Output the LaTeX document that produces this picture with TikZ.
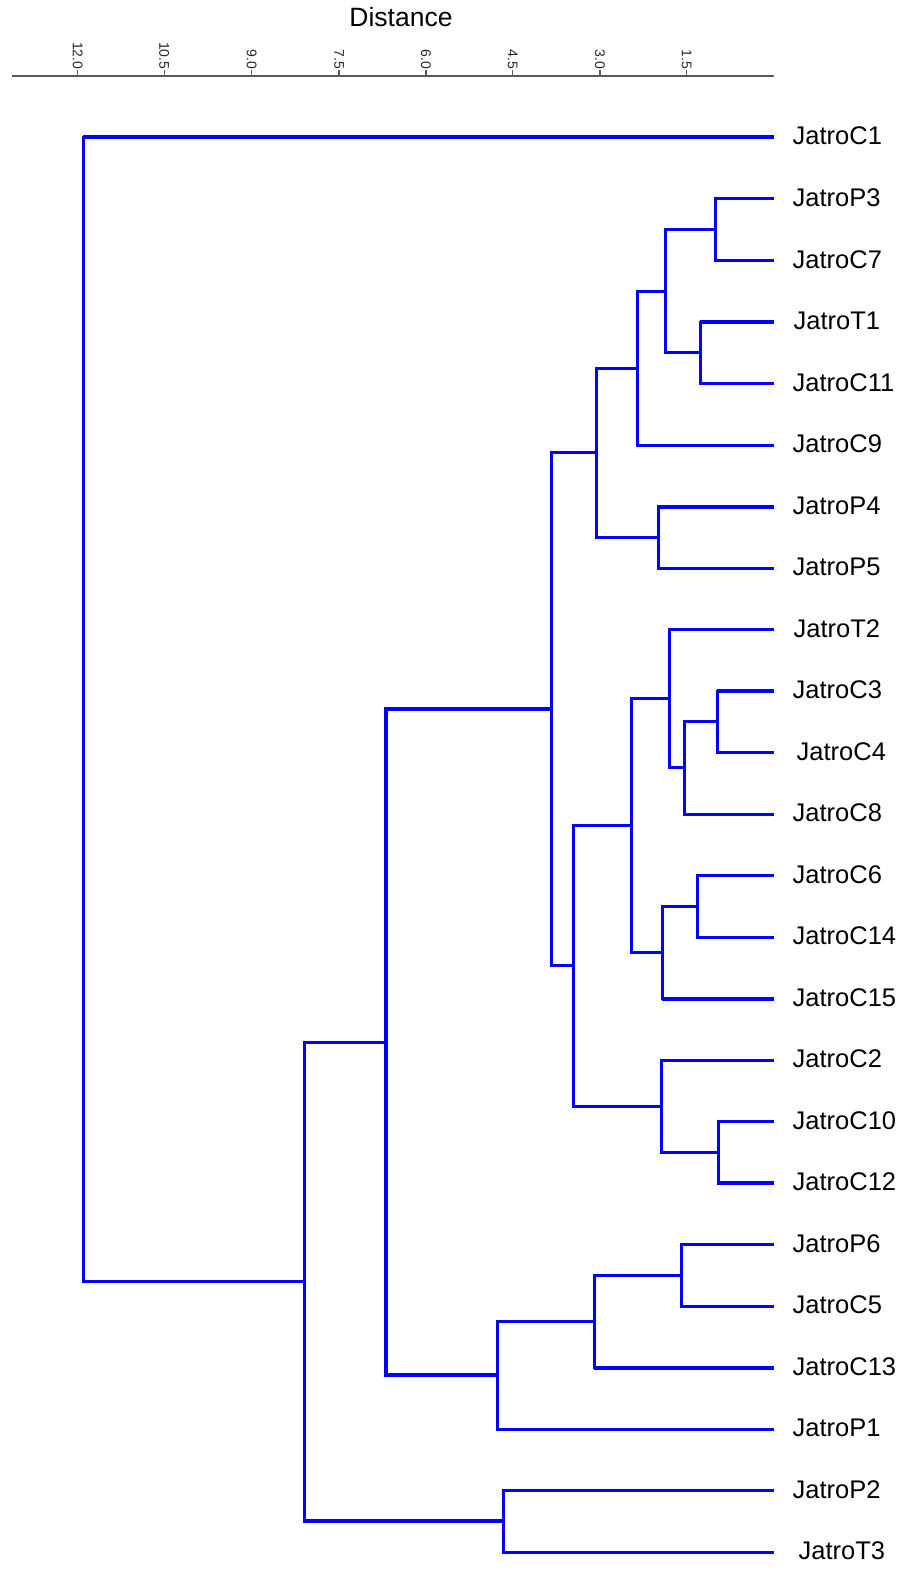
\documentclass[tikz,border=0pt]{standalone}
\usepackage{fontspec}
\setmainfont{Liberation Sans}
\begin{document}
\begin{tikzpicture}[x=1pt,y=-1pt,
  branch/.style={draw=blue,line width=3pt,line join=miter},
  thick branch/.style={branch,line width=4pt},
  leaflabel/.style={anchor=base west,inner sep=0pt,font=\fontsize{25.5}{30}\selectfont},
  ticklabel/.style={anchor=east,rotate=-90,inner sep=0pt,text=black!85,font=\fontsize{14}{16}\selectfont},
  axisline/.style={draw=black!65,line width=1.4pt}]
\useasboundingbox (0,0) rectangle (904,1570);

% ---- distance axis ----
\node[anchor=base,inner sep=0pt,font=\fontsize{26.5}{30}\selectfont] (title) at (401,27) {Distance};
\coordinate (axL) at (12,76);
\coordinate (axR) at (774,76);
\draw[axisline] (axL) -- (axR);
\foreach \xp/\lab [count=\i] in {77.7/12.0,164.3/10.5,251.7/9.0,339/7.5,426/6.0,512.7/4.5,600/3.0,686.7/1.5}{
  \coordinate (tk\i) at (\xp,76);
  \draw[axisline,line width=1.2pt] (tk\i) -- ++(0,-6);
  \node[ticklabel] (tl\i) at (\xp,69.5) {\lab};
}

% ---- leaves ----
\foreach \nm/\idx/\dx in {C1/0/0,P3/1/0,C7/2/0,T1/3/1,C11/4/0,C9/5/0,P4/6/0,P5/7/0,
  T2/8/1,C3/9/0,C4/10/4,C8/11/0,C6/12/0,C14/13/0,C15/14/0,C2/15/0,C10/16/0,C12/17/0,
  P6/18/0,C5/19/0,C13/20/0,P1/21/0,P2/22/0,T3/23/6}{
  \coordinate (\nm) at (774,{137.5+61.5*\idx});
  \node[leaflabel] (L\nm) at ({792.5+\dx},{145+61.5*\idx}) {Jatro\nm};
}

% ---- internal nodes (merge level, mid height of children) ----
\coordinate (a1) at (715,229.75);
\coordinate (a2) at (700,352.75);
\coordinate (a3) at (665,291.25);
\coordinate (a4) at (637,368.125);
\coordinate (a5) at (658,537.25);
\coordinate (a6) at (596,452.69);
\coordinate (b1) at (717,721.75);
\coordinate (b2) at (684,767.875);
\coordinate (b3) at (669,698.69);
\coordinate (b4) at (697,906.25);
\coordinate (b5) at (662,952.375);
\coordinate (b6) at (631,825.53);
\coordinate (b7) at (718,1152.25);
\coordinate (b8) at (661,1106.125);
\coordinate (b9) at (573,965.83);
\coordinate (c1) at (551,709.26);
\coordinate (d1) at (681,1275.25);
\coordinate (d2) at (594,1321.375);
\coordinate (d3) at (497,1375.19);
\coordinate (e1) at (386,1042.22);
\coordinate (f1) at (503,1521.25);
\coordinate (g1) at (304,1281.74);
\coordinate (root) at (83,709.6);

% ---- branches ----
\draw[branch] (a1) |- (P3);  \draw[branch] (a1) |- (C7);
\draw[branch] (a2) |- (T1);  \draw[branch] (a2) |- (C11);
\draw[branch] (a3) |- (a1);  \draw[branch] (a3) |- (a2);
\draw[branch] (a4) |- (a3);  \draw[branch] (a4) |- (C9);
\draw[branch] (a5) |- (P4);  \draw[branch] (a5) |- (P5);
\draw[branch] (a6) |- (a4);  \draw[branch] (a6) |- (a5);

\draw[branch] (b1) |- (C3);  \draw[branch] (b1) |- (C4);
\draw[branch] (b2) |- (b1);  \draw[branch] (b2) |- (C8);
\draw[branch] (b3) |- (T2);  \draw[branch] (b3) |- (b2);
\draw[branch] (b4) |- (C6);  \draw[branch] (b4) |- (C14);
\draw[branch] (b5) |- (b4);  \draw[branch] (b5) |- (C15);
\draw[branch] (b6) |- (b3);  \draw[branch] (b6) |- (b5);
\draw[branch] (b7) |- (C10); \draw[branch] (b7) |- (C12);
\draw[branch] (b8) |- (C2);  \draw[branch] (b8) |- (b7);
\draw[branch] (b9) |- (b6);  \draw[branch] (b9) |- (b8);
\draw[branch] (c1) |- (a6);  \draw[branch] (c1) |- (b9);

\draw[branch] (d1) |- (P6);  \draw[branch] (d1) |- (C5);
\draw[branch] (d2) |- (d1);  \draw[branch] (d2) |- (C13);
\draw[branch] (d3) |- (d2);  \draw[branch] (d3) |- (P1);
\draw[thick branch] (e1) |- (c1);  \draw[thick branch] (e1) |- (d3);
\draw[branch] (f1) |- (P2);  \draw[branch] (f1) |- (T3);
\draw[branch] (g1) |- (e1);  \draw[branch] (g1) |- (f1);
\draw[branch] (root) |- (C1); \draw[branch] (root) |- (g1);

% heavier horizontal segments
\draw[thick branch] (root |- C1) -- (C1);
\draw[thick branch] (a2 |- T1) -- (T1);
\draw[thick branch] (a5 |- P4) -- (P4);
\draw[thick branch] (b1 |- C3) -- (C3);
\draw[thick branch] (b5 |- C15) -- (C15);
\draw[thick branch] (b7 |- C12) -- (C12);
\draw[thick branch] (d2 |- C13) -- (C13);
\draw[thick branch] (g1 |- f1) -- (f1);
\end{tikzpicture}
\end{document}
